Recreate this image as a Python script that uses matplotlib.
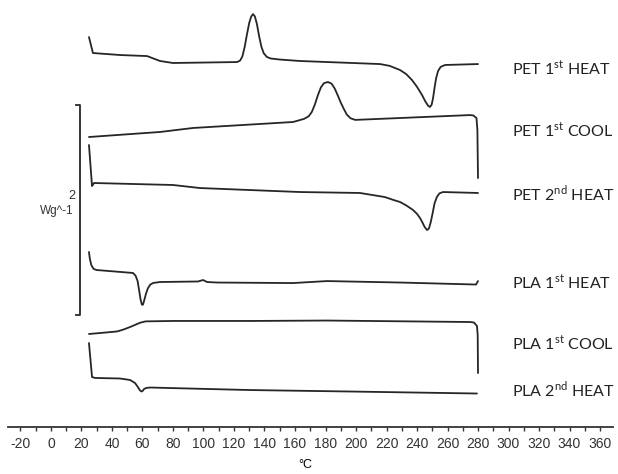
import matplotlib
matplotlib.use("Agg")
import matplotlib.pyplot as plt

plt.rcParams['font.family'] = ['Liberation Sans Narrow', 'Liberation Sans', 'DejaVu Sans']
plt.rcParams['mathtext.fontset'] = 'custom'
plt.rcParams['mathtext.rm'] = 'Lato'
plt.rcParams['axes.unicode_minus'] = False

# ---- data: temperature (°C) and heat-flow signal (W/g, stacked offsets) ----
pet_h1_T = [24.9, 27.5, 45.2, 63.0, 71.5, 80.0, 122.0, 124.0, 125.5, 127.0, 128.5, 130.0,
            131.3, 132.5, 133.7, 135.0, 136.5, 138.0, 139.5, 141.5, 144.0, 150.0, 163.3,
            215.7, 222.0, 228.9, 233.0, 236.7, 240.0, 243.3, 245.5, 247.2, 248.5, 249.6,
            250.5, 251.5, 252.5, 253.8, 255.5, 258.4, 280.0]
pet_h1_s = [3.714, 3.562, 3.543, 3.533, 3.486, 3.467, 3.476, 3.490, 3.530, 3.620, 3.740, 3.850,
            3.910, 3.933, 3.910, 3.840, 3.720, 3.620, 3.560, 3.525, 3.510, 3.500, 3.486,
            3.457, 3.440, 3.400, 3.360, 3.305, 3.240, 3.162, 3.100, 3.062, 3.048, 3.070,
            3.130, 3.230, 3.320, 3.390, 3.430, 3.448, 3.457]

pet_c1_T = [280.0, 279.6, 279.0, 277.0, 274.8, 199.5, 196.5, 194.0, 192.0, 190.0, 188.0,
            186.0, 184.0, 181.6, 179.0, 177.0, 175.0, 173.0, 171.0, 169.0, 166.0, 158.7,
            93.1, 71.5, 24.9]
pet_c1_s = [2.371, 2.829, 2.943, 2.967, 2.971, 2.925, 2.940, 2.975, 3.030, 3.090, 3.160,
            3.225, 3.270, 3.286, 3.275, 3.235, 3.160, 3.070, 3.000, 2.960, 2.935, 2.905,
            2.848, 2.810, 2.762]

pet_h2_T = [24.9, 26.9, 28.2, 80.0, 97.7, 163.3, 202.6, 219.0, 224.0, 228.9, 233.0, 237.4,
            240.0, 242.0, 243.5, 245.0, 246.6, 247.8, 249.0, 250.3, 251.5, 253.0, 254.7,
            257.0, 280.0]
pet_h2_s = [2.686, 2.295, 2.324, 2.305, 2.276, 2.238, 2.229, 2.190, 2.165, 2.143, 2.110, 2.067,
            2.030, 1.990, 1.950, 1.905, 1.876, 1.890, 1.950, 2.040, 2.130, 2.190, 2.225,
            2.238, 2.229]

pla_h1_T = [24.9, 25.5, 26.5, 28.0, 30.0, 42.0, 53.8, 55.5, 56.8, 57.8, 58.8, 59.6, 60.3,
            61.2, 62.3, 63.5, 65.0, 67.0, 71.5, 96.4, 99.7, 102.3, 108.9, 158.7, 181.0,
            228.9, 278.7, 280.0]
pla_h1_s = [1.667, 1.600, 1.540, 1.505, 1.495, 1.481, 1.467, 1.440, 1.390, 1.300, 1.210, 1.165,
            1.165, 1.210, 1.270, 1.320, 1.355, 1.372, 1.381, 1.386, 1.400, 1.381, 1.376,
            1.371, 1.390, 1.376, 1.357, 1.390]

pla_c1_T = [280.0, 279.8, 279.3, 277.4, 274.8, 181.0, 130.5, 80.0, 62.0, 58.4, 55.0, 51.8,
            47.5, 43.3, 32.1, 24.9]
pla_c1_s = [0.514, 0.876, 0.962, 0.995, 1.000, 1.014, 1.010, 1.010, 1.006, 0.993, 0.972, 0.952,
            0.928, 0.910, 0.895, 0.886]

pla_h2_T = [24.9, 26.9, 28.9, 45.2, 51.8, 55.1, 57.0, 58.3, 59.3, 60.2, 61.0, 62.5, 64.9,
            130.5, 196.1, 279.3]
pla_h2_s = [0.800, 0.476, 0.467, 0.462, 0.448, 0.419, 0.380, 0.350, 0.338, 0.345, 0.362, 0.372,
            0.376, 0.352, 0.338, 0.319]

curve_labels = [r'PET 1$^{\mathrm{st}}$ HEAT', r'PET 1$^{\mathrm{st}}$ COOL', r'PET 2$^{\mathrm{nd}}$ HEAT',
                r'PLA 1$^{\mathrm{st}}$ HEAT', r'PLA 1$^{\mathrm{st}}$ COOL', r'PLA 2$^{\mathrm{nd}}$ HEAT']
label_levels = [3.419, 2.829, 2.219, 1.381, 0.800, 0.352]

xticks = list(range(-20, 361, 20))
scale_bar_value = 2  # W/g

# ---- figure ----
fig = plt.figure(figsize=(6.18, 4.74), dpi=100)
ax = fig.add_axes([0, 47 / 474, 1, 427 / 474])
ax.set_xlim(-33.44, 371.8)
ax.set_ylim(0, 4.067)

color = '#262626'
for T, s in [(pet_h1_T, pet_h1_s), (pet_c1_T, pet_c1_s), (pet_h2_T, pet_h2_s),
             (pla_h1_T, pla_h1_s), (pla_c1_T, pla_c1_s), (pla_h2_T, pla_h2_s)]:
    ax.plot(T, s, color=color, lw=1.3, solid_joinstyle='round', solid_capstyle='round')

for lab, lv in zip(curve_labels, label_levels):
    ax.text(302, lv, lab, fontsize=11.5, family=['Lato', 'DejaVu Sans'],
            va='center', ha='left', color='#222222')

# scale bar
top = 3.067
bot = top - scale_bar_value
ax.plot([16.4, 19.0, 19.0, 16.4], [top, top, bot, bot], color=color, lw=1.3)
ax.text(15.8, 2.20, str(scale_bar_value), fontsize=9, ha='right', va='center',
        family=['Liberation Sans', 'DejaVu Sans'], color='#333333')
ax.text(14.5, 2.06, 'Wg^-1', fontsize=8.5, ha='right', va='center',
        family=['Liberation Sans', 'DejaVu Sans'], color='#333333')

# axis
for sp in ['left', 'right', 'top']:
    ax.spines[sp].set_visible(False)
ax.spines['bottom'].set_bounds(-28.2, 368.5)
ax.spines['bottom'].set_linewidth(1.3)
ax.spines['bottom'].set_color('#333333')
ax.set_yticks([])
ax.set_xticks(xticks)
ax.set_xticks(list(range(-20, 361, 10)), minor=True)
ax.tick_params(axis='x', which='both', direction='out', length=3, width=1, colors='#333333',
               labelsize=10, pad=4)
ax.set_xlabel('°C', fontsize=9, labelpad=6, x=(305 / 618))
ax.patch.set_alpha(0)

fig.savefig('out.png', dpi=100)
